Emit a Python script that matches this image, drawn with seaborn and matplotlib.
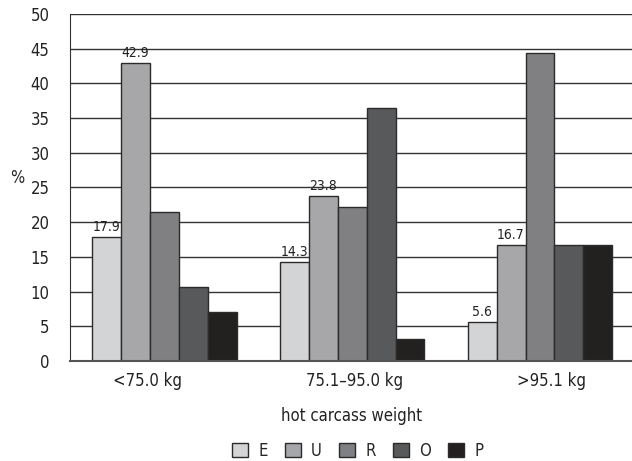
# Carcass conformation by hot carcass weight class
import pandas as pd
import matplotlib.pyplot as plt
import matplotlib.transforms as mtransforms
import seaborn as sns

# data
weight_classes = ["<75.0 kg", "75.1\u201395.0 kg", ">95.1 kg"]
grades = ["E", "U", "R", "O", "P"]
grade_E = [17.9, 14.3, 5.6]
grade_U = [42.9, 23.8, 16.7]
grade_R = [21.4, 22.2, 44.4]
grade_O = [10.7, 36.5, 16.7]
grade_P = [7.1, 3.2, 16.7]
labelled_grades = ["E", "U"]

grade_colors = ["#d3d4d6", "#a6a7aa", "#7f8083", "#58595b", "#231f20"]

# long form table for seaborn
values = {"E": grade_E, "U": grade_U, "R": grade_R, "O": grade_O, "P": grade_P}
rows = []
for g in grades:
    for wc, v in zip(weight_classes, values[g]):
        rows.append({"weight": wc, "grade": g, "pct": v})
df = pd.DataFrame(rows)

sns.set_style("white")
plt.rcParams["font.family"] = ["DejaVu Sans"]
plt.rcParams["font.stretch"] = "condensed"

fig = plt.figure(figsize=(6.32, 4.61), dpi=100)
ax = fig.add_axes([0.1115, 0.217, 0.8885, 0.753])

sns.barplot(
    data=df, x="weight", y="pct", hue="grade",
    order=weight_classes, hue_order=grades,
    palette=grade_colors, width=0.77,
    edgecolor="#2b2b2b", linewidth=1.0, ax=ax, legend=False,
)

# value labels only on the first two grades
for container, g in zip(ax.containers, grades):
    if g in labelled_grades:
        ax.bar_label(container, labels=[f"{v:.1f}" for v in values[g]],
                     padding=2, fontsize=10, color="#222222")

ax.set_ylim(0, 50)
ax.set_yticks(range(0, 51, 5))
ax.set_xlim(-0.5, 2.49)
ax.yaxis.grid(True, color="#333333", linewidth=1.0)
ax.set_axisbelow(True)
ax.tick_params(axis="both", length=0, labelsize=12, colors="#222222")
ax.tick_params(axis="x", pad=8)
ax.tick_params(axis="y", pad=15)

# the original tick labels sit a little off the group centres
shifts = [-17, 2, 12]
for lab, dx in zip(ax.get_xticklabels(), shifts):
    lab.set_transform(lab.get_transform() +
                      mtransforms.ScaledTranslation(dx / 100, 0, fig.dpi_scale_trans))

for side in ["top", "right"]:
    ax.spines[side].set_visible(False)
ax.spines["left"].set_color("#333333")
ax.spines["bottom"].set_color("#555555")
ax.spines["bottom"].set_linewidth(1.5)

ax.set_xlabel("hot carcass weight", fontsize=12, labelpad=12, color="#222222")
ax.set_ylabel("%", fontsize=12, rotation=0, color="#222222")
ax.yaxis.set_label_coords(-0.095, 0.5)

handles = [plt.Rectangle((0, 0), 1, 1, facecolor=c, edgecolor="#2b2b2b", linewidth=1.0)
           for c in grade_colors]
fig.legend(handles, grades, loc="lower center", bbox_to_anchor=(0.566, -0.03),
           ncol=5, frameon=False, fontsize=12, handlelength=0.95, handleheight=0.95,
           handletextpad=0.6, columnspacing=1.05)

fig.savefig("out.png", dpi=100)
